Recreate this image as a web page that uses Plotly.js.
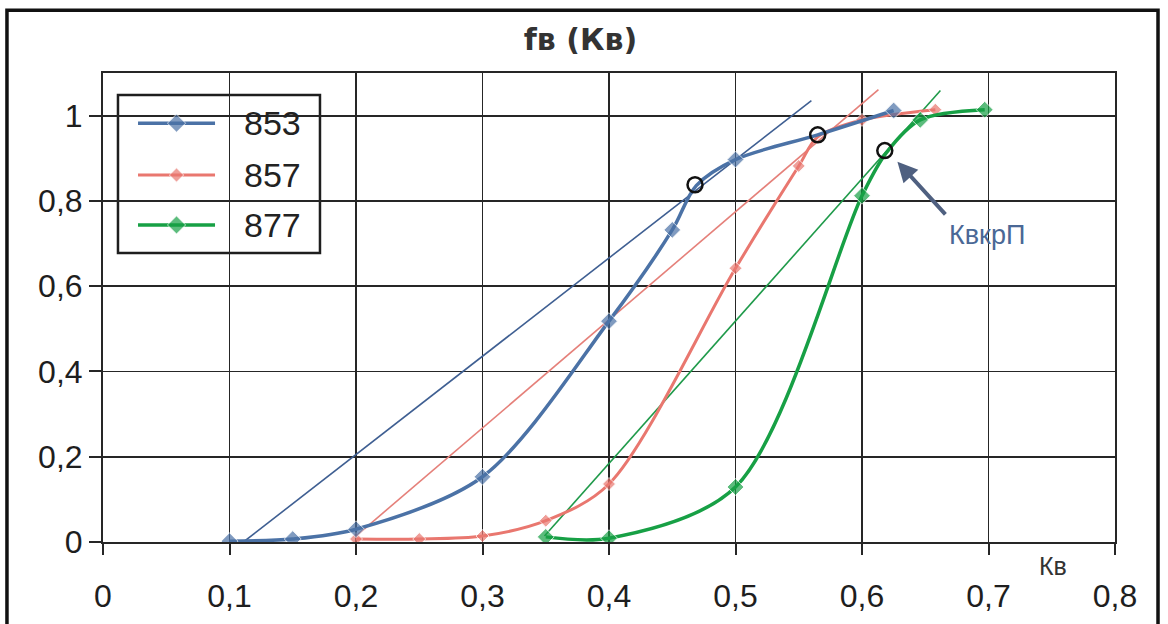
<!DOCTYPE html>
<html>
<head>
<meta charset="utf-8">
<script src="https://cdn.plot.ly/plotly-3.0.1.min.js"></script>
<style>html,body{margin:0;padding:0;background:#fff;}#chart{width:1168px;height:624px;}</style>
</head>
<body>
<div id="chart"></div>
<script>
// ---- data ----
const seriesNames = ["853", "857", "877"];
// marked points of each curve
const x853 = [0.1, 0.15, 0.2, 0.3, 0.4, 0.45, 0.5, 0.625];
const y853 = [0.002, 0.007, 0.03, 0.153, 0.518, 0.732, 0.897, 1.012];
const x857 = [0.2, 0.25, 0.3, 0.35, 0.4, 0.5, 0.55, 0.6, 0.658];
const y857 = [0.007, 0.007, 0.014, 0.05, 0.136, 0.642, 0.882, 0.99, 1.014];
const x877 = [0.35, 0.4, 0.5, 0.6, 0.646, 0.697];
const y877 = [0.012, 0.009, 0.129, 0.812, 0.99, 1.014];
// points where the curves pass through the circled tangent points (no marker)
const pass853X = [0.469, 0.565]; const pass853Y = [0.836, 0.955];
const pass857X = [0.565];        const pass857Y = [0.95];
const pass877X = [0.619];        const pass877Y = [0.912];
// tangent lines
const tanX853 = [0.111, 0.56];  const tanY853 = [0.0, 1.035];
const tanX857 = [0.2, 0.613];   const tanY857 = [0.014, 1.061];
const tanX877 = [0.349, 0.662]; const tanY877 = [0.014, 1.059];
// tangent points (open circles)
const critX = [0.468, 0.565, 0.618];
const critY = [0.838, 0.955, 0.918];
const critLabel = "КвкрП";
// axes ticks
const xTicks = [0, 0.1, 0.2, 0.3, 0.4, 0.5, 0.6, 0.7, 0.8];
const yTicks = [0, 0.2, 0.4, 0.6, 0.8, 1];

const colors = {"853": "#4b72a6", "857": "#e9776f", "877": "#17a045"};
const tanColors = {"853": "#3f5f92", "857": "#e5807a", "877": "#1f9a4a"};

const FONT = "Liberation Sans, Arial, sans-serif";

function merge(xs, ys, px, py, msize) {
  const pts = xs.map((x, i) => ({x: x, y: ys[i], s: msize}))
    .concat(px.map((x, i) => ({x: x, y: py[i], s: 0})));
  pts.sort((a, b) => a.x - b.x);
  return {x: pts.map(p => p.x), y: pts.map(p => p.y), s: pts.map(p => p.s)};
}

function series(name, xs, ys, px, py, msize, lw) {
  const m = merge(xs, ys, px, py, msize);
  return {x: m.x, y: m.y, name: name, type: "scatter", mode: "lines+markers",
    line: {color: colors[name], width: lw, shape: "spline", smoothing: 0.9},
    marker: {symbol: "diamond", size: m.s, color: colors[name]},
    showlegend: false, hoverinfo: "x+y+name"};
}
function tangent(name, xs, ys) {
  return {x: xs, y: ys, type: "scatter", mode: "lines", showlegend: false,
    line: {color: tanColors[name], width: 1.6}, hoverinfo: "skip"};
}

// legend layout (paper units on an overlay axis)
const legRows = [0.893, 0.7825, 0.676];
const legLineX = [0.0346, 0.1107];
const legTextX = 0.137;
const legendTraces = seriesNames.map((n, i) => ({
  x: [legLineX[0], (legLineX[0] + legLineX[1]) / 2, legLineX[1]],
  y: [legRows[i], legRows[i], legRows[i]],
  xaxis: "x2", yaxis: "y2", type: "scatter", mode: "lines+markers",
  line: {color: colors[n], width: n === "857" ? 3 : 3.5},
  marker: {symbol: "diamond", color: colors[n], size: [0, n === "857" ? 11 : 14, 0]},
  showlegend: false, hoverinfo: "skip"
}));

const traces = [
  tangent("853", tanX853, tanY853),
  tangent("857", tanX857, tanY857),
  tangent("877", tanX877, tanY877),
  series("857", x857, y857, pass857X, pass857Y, 10, 3),
  series("853", x853, y853, pass853X, pass853Y, 13, 3.5),
  series("877", x877, y877, pass877X, pass877Y, 13, 3.5),
  {x: critX, y: critY, type: "scatter", mode: "markers", showlegend: false,
   marker: {symbol: "circle-open", size: 15, color: "#111", line: {width: 2.5, color: "#111"}},
   hoverinfo: "x+y"}
].concat(legendTraces);

const annotations = seriesNames.map((n, i) => ({
  xref: "paper", yref: "paper", x: legTextX, y: legRows[i], text: n,
  showarrow: false, xanchor: "left", yanchor: "middle",
  font: {family: FONT, size: 34, color: "#222"}
}));
annotations.push({
  x: critX[2] + 0.01, y: critY[2] - 0.026, ax: 0.667, ay: 0.765,
  xref: "x", yref: "y", axref: "x", ayref: "y", text: "",
  showarrow: true, arrowhead: 2, arrowsize: 1, arrowwidth: 4, arrowcolor: "#4f6080", standoff: 0
});
annotations.push({
  x: 0.667, y: 0.72, xref: "x", yref: "y", text: critLabel, showarrow: false,
  xanchor: "left", yanchor: "middle", font: {family: FONT, size: 27, color: "#4a6896"}
});
annotations.push({
  x: 0.9387, y: -0.052, xref: "paper", yref: "paper", text: "Кв", showarrow: false,
  xanchor: "center", yanchor: "middle", font: {family: FONT, size: 25, color: "#333"}
});

const layout = {
  width: 1168, height: 624,
  margin: {l: 103, r: 53, t: 73, b: 82},
  paper_bgcolor: "#fff", plot_bgcolor: "#fff",
  separators: ",.",
  showlegend: false,
  title: {text: "<b>fв (Кв)</b>", x: 0.497, xref: "container", y: 0.937, yref: "container",
          xanchor: "center", yanchor: "middle",
          font: {family: "DejaVu Sans, sans-serif", size: 30, color: "#333"}},
  xaxis: {range: [0, 0.8], tickvals: xTicks, showgrid: true, gridcolor: "#262626", gridwidth: 1.8,
          showline: true, linecolor: "#262626", linewidth: 2, mirror: true, zeroline: false,
          ticks: "outside", ticklen: 11, tickwidth: 2, tickcolor: "#262626", ticklabelstandoff: 14,
          tickfont: {family: FONT, size: 32, color: "#1e1e1e"}, fixedrange: true},
  yaxis: {range: [0, 1.1], tickvals: yTicks, showgrid: true, gridcolor: "#262626", gridwidth: 1.8,
          showline: true, linecolor: "#262626", linewidth: 2, mirror: true, zeroline: false,
          ticks: "outside", ticklen: 12, tickwidth: 2, tickcolor: "#262626",
          tickfont: {family: FONT, size: 32, color: "#1e1e1e"}, fixedrange: true},
  xaxis2: {range: [0, 1], overlaying: "x", visible: false, fixedrange: true},
  yaxis2: {range: [0, 1], overlaying: "y", visible: false, fixedrange: true},
  shapes: [
    {type: "rect", xref: "paper", yref: "paper", x0: 0.0148, x1: 0.2144, y0: 0.616, y1: 0.953,
     fillcolor: "#fff", line: {color: "#1e1e1e", width: 2.5}, layer: "between"},
    {type: "rect", xref: "paper", yref: "paper", x0: -0.0949, x1: 1.0425, y0: -0.2, y1: 1.134,
     fillcolor: "rgba(0,0,0,0)", line: {color: "#111", width: 3.5}, layer: "above"}
  ],
  annotations: annotations
};

Plotly.newPlot("chart", traces, layout, {staticPlot: true, displayModeBar: false});
</script>
</body>
</html>
